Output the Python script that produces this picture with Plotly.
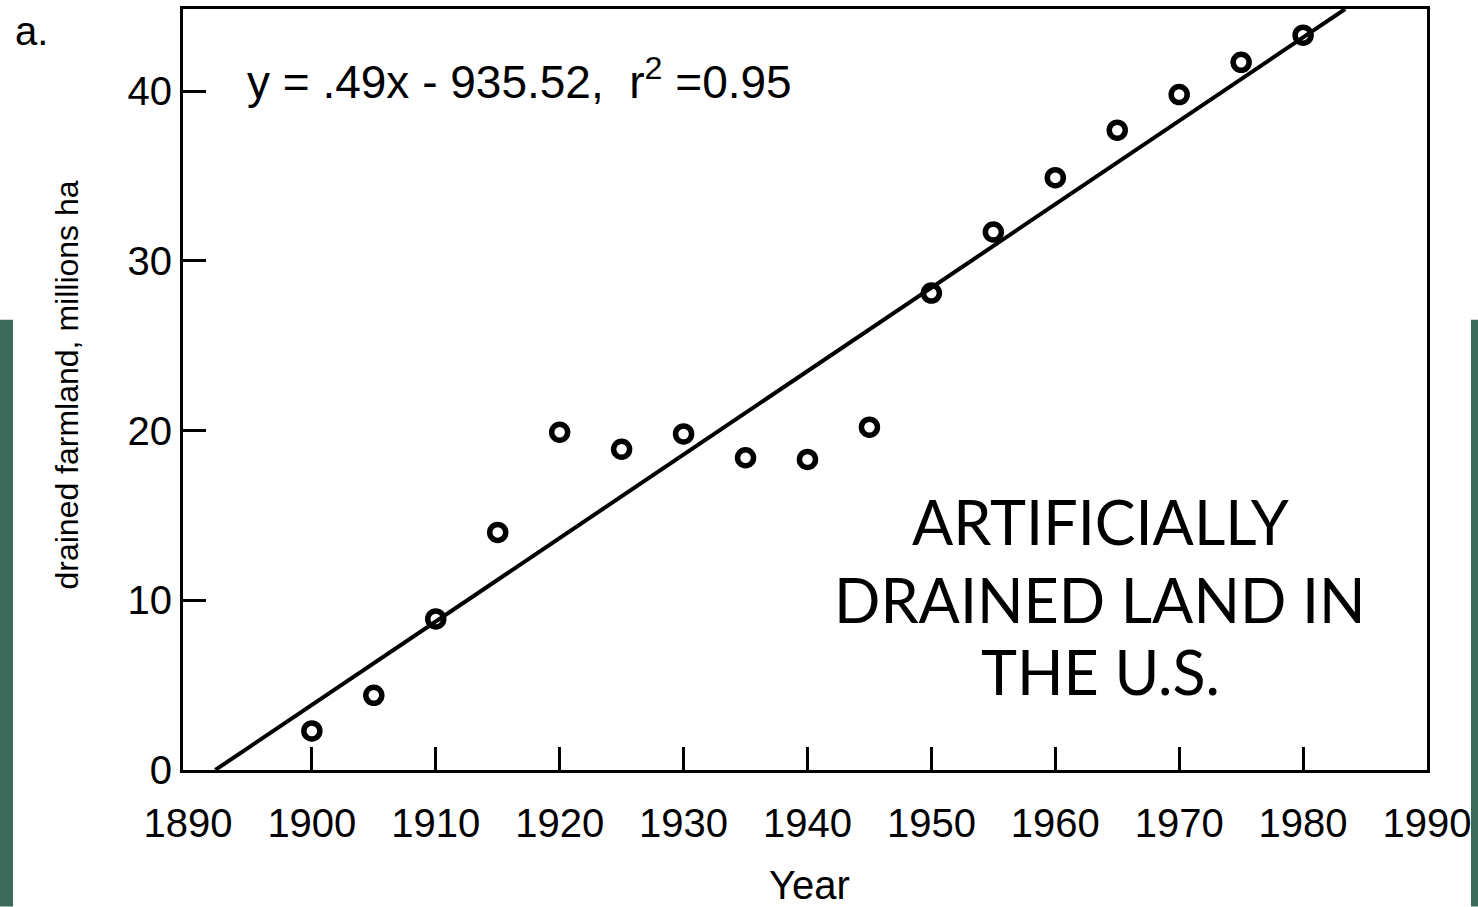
import plotly.graph_objects as go

# ---- data ----
years = [1900, 1905, 1910, 1915, 1920, 1925, 1930, 1935, 1940, 1945,
         1950, 1955, 1960, 1965, 1970, 1975, 1980]
drained = [2.3, 4.4, 8.9, 14.0, 19.9, 18.9, 19.8, 18.4, 18.3, 20.2,
           28.1, 31.7, 34.9, 37.7, 39.8, 41.7, 43.3]
fit_x = [1892.2, 1983.4]
fit_y = [0.0, 44.84]
x_label_vals = [1890, 1900, 1910, 1920, 1930, 1940, 1950, 1960, 1970, 1980, 1990]
x_tick_vals = [1900, 1910, 1920, 1930, 1940, 1950, 1960, 1970, 1980]
y_tick_vals = [0, 10, 20, 30, 40]
equation_text = "y = .49x - 935.52,  r<sup>2</sup> =0.95"
title_lines = ["ARTIFICIALLY", "DRAINED LAND IN", "THE U.S."]

# ---- layout geometry (pixels) ----
W, H = 1478, 907
L, R, T, B = 183, 51, 6, 137
PW, PH = W - L - R, H - T - B


def px(xp):
    return (xp - L) / PW


def py(yp):
    return (H - B - yp) / PH


AX_FONT = dict(family="Liberation Sans, Arial, sans-serif", size=40, color="black")
GREEN = "#3c6a5a"

fig = go.Figure()
fig.add_trace(go.Scatter(x=fit_x, y=fit_y, mode="lines",
                         line=dict(color="black", width=4),
                         hoverinfo="skip", showlegend=False, xaxis="x2"))
fig.add_trace(go.Scatter(x=years, y=drained, mode="markers",
                         marker=dict(symbol="circle-open", size=16, color="black",
                                     line=dict(width=5.5, color="black")),
                         showlegend=False))

xr = [1889.6, 1990.0]
fig.update_layout(
    width=W, height=H,
    margin=dict(l=L, r=R, t=T, b=B),
    paper_bgcolor="white", plot_bgcolor="white",
    xaxis=dict(range=xr, tickvals=x_label_vals, ticks="", showgrid=False,
               zeroline=False, showline=True, mirror=True, linecolor="black",
               linewidth=3, tickfont=AX_FONT, ticklabelstandoff=16),
    xaxis2=dict(range=xr, overlaying="x", side="bottom", tickvals=x_tick_vals,
                ticks="inside", ticklen=23, tickwidth=2.5, tickcolor="black",
                showticklabels=False, showgrid=False, zeroline=False, showline=False),
    yaxis=dict(range=[0, 44.84], tickvals=y_tick_vals, ticks="inside", ticklen=23,
               tickwidth=2.5, tickcolor="black", showgrid=False, zeroline=False,
               showline=True, mirror=True, linecolor="black", linewidth=3,
               tickfont=AX_FONT, ticklabelstandoff=0),
)

ann = []
ann.append(dict(text="Year", x=px(809), y=py(885), xref="paper", yref="paper",
                xanchor="center", yanchor="middle", showarrow=False, font=AX_FONT))
ann.append(dict(text="drained farmland, millions ha", x=px(67), y=py(384),
                xref="paper", yref="paper", xanchor="center", yanchor="middle",
                textangle=-90, showarrow=False,
                font=dict(family="Liberation Sans, Arial, sans-serif", size=32, color="black")))
ann.append(dict(text="a.", x=px(13), y=py(28), xref="paper", yref="paper",
                xanchor="left", yanchor="middle", showarrow=False, font=AX_FONT))
ann.append(dict(text=equation_text, x=px(245), y=py(76), xref="paper", yref="paper",
                xanchor="left", yanchor="middle", showarrow=False,
                font=dict(family="Liberation Sans, Arial, sans-serif", size=46, color="black")))
for line, yc in zip(title_lines, [521, 599, 671]):
    ann.append(dict(text=line, x=px(1100), y=py(yc), xref="paper", yref="paper",
                    xanchor="center", yanchor="middle", showarrow=False,
                    font=dict(family="Lato, sans-serif", size=61, color="black")))
fig.update_layout(annotations=ann)

fig.add_shape(type="rect", xref="paper", yref="paper", x0=px(0), x1=px(13),
              y0=py(907), y1=py(318), fillcolor=GREEN, line=dict(width=0), layer="below")
fig.add_shape(type="rect", xref="paper", yref="paper", x0=px(1471), x1=px(1478),
              y0=py(907), y1=py(318), fillcolor=GREEN, line=dict(width=0), layer="below")

fig.write_html("out.html")
